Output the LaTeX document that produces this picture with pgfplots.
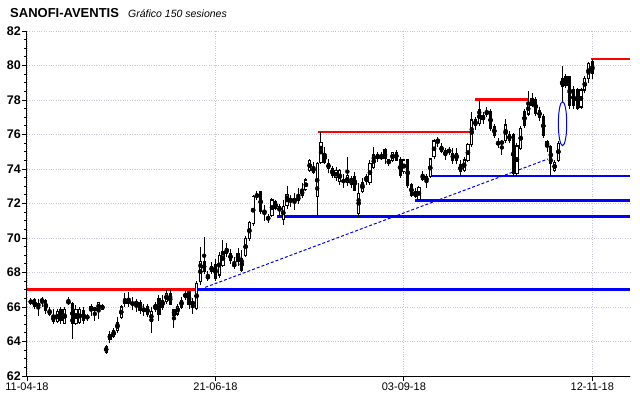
\documentclass[border=0pt]{standalone}
\usepackage{pgfplots}
\usepackage{pgfplotstable}
\pgfplotsset{compat=1.18}
\usepackage{fontspec}
\setmainfont{Liberation Sans}
\definecolor{gridc}{RGB}{200,198,212}
\definecolor{pblue}{RGB}{0,0,255}
\definecolor{pred}{RGB}{255,0,0}
\pgfplotstableread{
i o h l c
1 66.25 66.5 66.1 66.37
2 66.41 66.5 65.9 66.02
3 66.15 66.45 65.5 66.08
4 66.31 66.6 66.0 66.45
5 66.37 66.45 65.6 65.83
6 65.8 66.0 65.5 65.6
7 65.5 65.9 65.0 65.15
8 65.15 65.9 65.05 65.73
9 65.83 66.0 65.0 65.25
10 65.05 66.0 65.0 65.86
11 66.2 66.6 66.1 66.35
12 66.2 66.3 64.15 65.05
13 65.05 66.1 64.95 65.83
14 65.1 66.0 65.0 65.85
15 65.8 66.0 65.0 65.2
16 65.35 65.6 65.2 65.47
17 65.85 66.2 65.5 66.0
18 65.9 66.0 65.2 65.85
19 65.85 66.3 65.3 66.25
20 65.85 66.2 65.8 66.1
21 63.35 63.8 63.3 63.72
22 64.15 64.6 63.9 64.4
23 64.3 64.8 64.2 64.65
24 64.65 65.4 64.5 65.1
25 65.4 66.1 65.3 66.0
26 66.2 66.8 66.0 66.4
27 66.45 66.85 66.0 66.2
28 66.15 66.6 65.8 66.25
29 66.2 66.45 65.7 66.27
30 66.25 66.4 65.6 65.83
31 65.9 66.2 65.5 65.75
32 66.0 66.2 65.4 65.55
33 65.15 66.0 64.5 65.75
34 65.85 66.3 65.7 66.15
35 66.5 66.7 65.2 65.6
36 66.0 66.7 65.8 66.4
37 66.3 67.0 66.2 66.8
38 66.75 67.05 66.1 66.15
39 65.85 65.9 64.8 65.5
40 65.6 66.2 65.5 66.05
41 66.0 66.6 65.9 66.4
42 66.55 66.95 66.4 66.8
43 66.9 67.0 65.9 66.15
44 66.25 66.5 65.6 66.2
45 65.9 67.5 65.8 67.37
46 67.47 69.5 67.3 68.63
47 68.63 70.05 67.9 68.05
48 67.75 68.1 67.5 67.7
49 68.05 68.6 67.9 68.34
50 68.43 68.8 67.5 67.66
51 67.86 69.2 67.7 69.0
52 68.43 69.9 68.3 69.2
53 69.4 69.7 68.9 69.11
54 69.1 69.35 68.5 68.72
55 68.36 68.9 68.2 68.5
56 69.1 69.4 68.4 68.63
57 68.8 69.3 68.0 68.15
58 69.0 70.1 68.9 69.98
59 69.98 71.0 69.8 70.9
60 70.85 72.5 70.7 72.4
61 72.4 72.75 72.2 72.5
62 72.68 72.75 71.4 71.52
63 71.45 71.9 71.0 71.6
64 71.23 71.4 70.85 71.07
65 71.33 72.3 71.2 72.2
66 72.1 72.2 71.6 71.7
67 71.6 72.0 71.3 71.8
68 71.1 72.2 70.75 71.8
69 71.9 73.0 71.7 72.5
70 72.3 72.5 71.8 72.1
71 72.1 72.6 71.6 72.3
72 72.2 72.9 72.0 72.4
73 72.45 73.2 72.3 72.8
74 72.8 73.5 72.7 73.36
75 73.9 74.6 73.8 74.5
76 74.1 74.4 73.7 73.8
77 72.4 74.4 71.35 74.3
78 74.4 76.15 74.3 75.56
79 74.9 75.3 74.3 74.4
80 74.3 74.6 73.75 74.05
81 74.0 74.2 73.5 73.65
82 73.5 74.1 73.3 73.9
83 73.3 74.0 73.1 73.9
84 73.4 73.7 72.9 73.2
85 73.2 74.7 73.0 73.6
86 73.11 73.6 72.9 73.46
87 73.56 73.85 72.7 72.78
88 71.43 73.17 71.2 72.6
89 72.69 73.5 72.6 73.23
90 73.3 73.7 73.1 73.56
91 73.23 74.5 73.1 74.33
92 74.08 75.25 74.0 74.81
93 74.81 75.0 74.4 74.62
94 74.62 75.0 74.5 74.75
95 75.1 75.2 74.3 74.6
96 74.52 74.6 74.2 74.33
97 74.52 75.0 74.4 74.97
98 74.97 75.1 74.45 74.52
99 74.52 74.7 73.5 73.65
100 73.85 74.6 73.7 74.52
101 74.52 74.6 72.9 73.07
102 73.07 73.2 72.4 72.49
103 72.69 72.9 72.3 72.4
104 72.26 73.0 72.2 72.92
105 73.65 73.9 73.3 73.42
106 73.56 73.7 72.9 73.27
107 73.56 74.6 73.5 74.58
108 74.71 75.75 74.6 75.62
109 75.6 75.85 75.3 75.68
110 75.29 75.5 74.9 75.04
111 75.04 75.2 74.55 74.81
112 75.0 75.3 74.8 75.1
113 74.9 75.2 74.3 74.52
114 74.9 75.2 74.3 74.5
115 74.23 74.5 73.6 73.85
116 73.9 74.7 73.8 74.52
117 74.48 75.5 74.4 75.4
118 75.4 77.3 75.3 76.84
119 76.84 77.0 76.26 76.55
120 76.65 78.05 76.5 77.42
121 77.07 77.3 76.6 76.88
122 77.19 77.6 77.0 77.32
123 77.32 77.45 76.2 76.36
124 76.45 76.6 75.8 75.97
125 75.47 75.8 75.2 75.51
126 75.51 75.7 74.8 75.55
127 75.68 76.9 75.5 76.55
128 75.97 76.2 75.5 75.68
129 75.97 76.1 73.6 73.75
130 73.75 75.5 73.6 75.33
131 75.2 76.5 75.1 76.36
132 77.32 77.5 76.4 76.55
133 77.19 78.5 77.1 77.8
134 78.1 78.4 77.6 77.7
135 78.0 78.2 77.1 77.23
136 77.4 77.6 76.8 77.0
137 77.03 77.2 75.8 75.97
138 75.3 75.7 75.0 75.6
139 75.3 75.4 73.6 74.33
140 73.9 74.5 73.8 74.4
141 74.5 75.6 74.4 75.5
142 79.26 80.0 77.9 78.77
143 79.35 79.5 78.7 78.87
144 79.35 79.4 77.5 77.7
145 78.58 78.8 77.5 77.7
146 78.58 78.7 77.4 77.52
147 77.6 78.7 77.5 78.58
148 78.58 79.4 78.4 79.26
149 79.26 80.2 79.0 80.13
150 80.22 80.4 79.2 79.55
}\candles
\begin{document}
\begin{tikzpicture}
\useasboundingbox (-27bp,-22bp) rectangle (613bp,376bp);
\begin{axis}[
  at={(0,0)}, anchor=south west,
  width=603bp, height=345bp, scale only axis,
  xmin=0, xmax=160, ymin=62, ymax=82,
  axis x line*=bottom, axis y line*=left,
  axis line style={black, line width=1bp},
  xtick={0,50,100,150},
  xticklabels={11-04-18,21-06-18,03-09-18,12-11-18},
  ytick={62,64,...,82},
  minor y tick num=3,
  tick align=outside,
  major tick length=5bp, minor tick length=3bp,
  tick style={black, line width=0.8bp},
  xmajorgrids, ymajorgrids,
  grid style={dotted, gridc, line width=0.8bp},
  /pgf/number format/assume math mode=true,
  yticklabel style={font=\fontsize{12.5bp}{14bp}\selectfont\bfseries, inner sep=1bp},
  xticklabel style={font=\fontsize{11bp}{13bp}\selectfont, inner sep=2bp},
  clip=true,
]
% horizontal support / resistance lines
\addplot[draw=pred, line width=2.6bp, forget plot] coordinates {(0,67) (45.3,67)};
\addplot[draw=pblue, line width=2.6bp, forget plot] coordinates {(45.3,67) (160,67)};
\addplot[draw=pblue, line width=2.6bp, forget plot] coordinates {(66.3,71.23) (160,71.23)};
\addplot[draw=pblue, line width=2.6bp, forget plot] coordinates {(103,72.16) (160,72.16)};
\addplot[draw=pblue, line width=1.3bp, forget plot] coordinates {(107.4,73.6) (160,73.6)};
\addplot[draw=pred, line width=2.6bp, forget plot] coordinates {(77.2,76.15) (117.8,76.15)};
\addplot[draw=pred, line width=2.6bp, forget plot] coordinates {(119,78.02) (133.2,78.02)};
\addplot[draw=pred, line width=1.3bp, forget plot] coordinates {(149.7,80.38) (160,80.38)};
\addplot[draw=pblue, line width=1bp, dash pattern=on 3bp off 2bp, forget plot] coordinates {(47.3,67.14) (138.2,74.58)};
% wicks
\addplot[only marks, mark=none, forget plot,
  error bars/.cd, y dir=both, y explicit, error mark=none,
  error bar style={black, solid, line width=1bp}]
  table[x=i, y expr={(\thisrow{h}+\thisrow{l})/2}, y error expr={(\thisrow{h}-\thisrow{l})/2}] {\candles};
% bodies (outline / black fill)
\addplot[only marks, mark=none, forget plot,
  error bars/.cd, y dir=both, y explicit, error mark=none,
  error bar style={black, solid, line width=3.2bp}]
  table[x=i, y expr={(\thisrow{o}+\thisrow{c})/2}, y error expr={abs(\thisrow{c}-\thisrow{o})/2+0.035}] {\candles};
% white interior of rising candles
\addplot[only marks, mark=none, forget plot,
  error bars/.cd, y dir=both, y explicit, error mark=none,
  error bar style={white, solid, line width=1.3bp}]
  table[x=i, y expr={(\thisrow{o}+\thisrow{c})/2}, y error expr={max((\thisrow{c}-\thisrow{o})/2-0.03,0)}] {\candles};
\draw[pblue, line width=1bp] (axis cs:142.1,76.63) ellipse [x radius=4.2bp, y radius=22bp];
\end{axis}
\node[anchor=base west, inner sep=0pt, font=\fontsize{13bp}{15bp}\selectfont\bfseries] at (-17bp,358bp) {SANOFI-AVENTIS};
\node[anchor=base west, inner sep=0pt, font=\fontsize{10.5bp}{12bp}\selectfont\itshape] at (101bp,358bp) {Gráfico 150 sesiones};
\end{tikzpicture}
\end{document}
